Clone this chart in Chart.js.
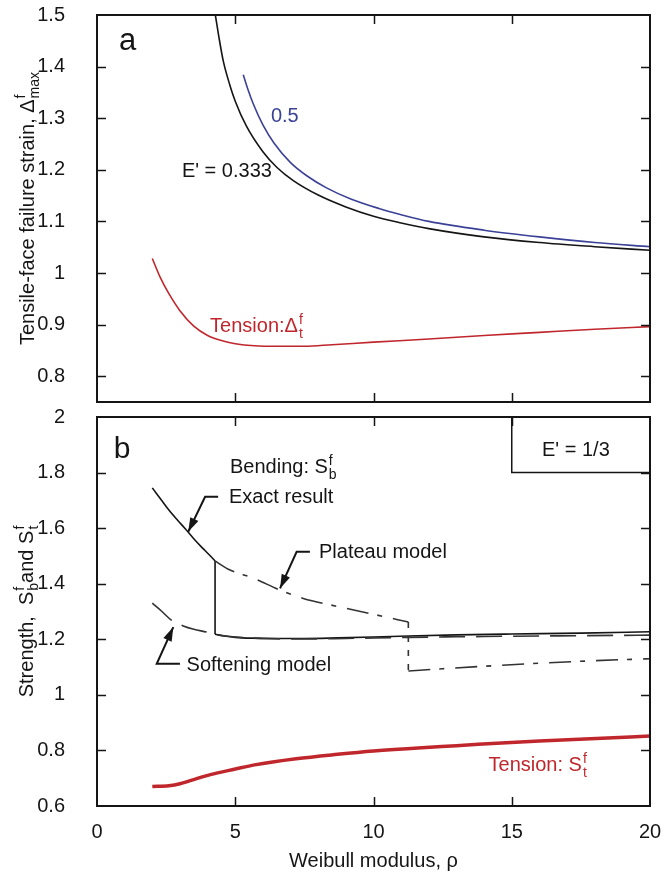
<!DOCTYPE html>
<html>
<head>
<meta charset="utf-8">
<script src="https://cdn.jsdelivr.net/npm/chart.js@4.4.1/dist/chart.umd.min.js"></script>
<style>
  html, body { margin: 0; padding: 0; background: #fff; }
  #wrap { position: relative; width: 664px; height: 875px; }
  canvas { position: absolute; left: 0; }
  #panelA { top: 0; }
  #panelB { top: 400px; }
</style>
</head>
<body>
<div id="wrap">
  <canvas id="panelA" width="664" height="410"></canvas>
  <canvas id="panelB" width="664" height="475"></canvas>
</div>
<script>
// ---- axis ticks ----
const xTicks = [0, 5, 10, 15, 20];
const yTicksA = [0.8, 0.9, 1, 1.1, 1.2, 1.3, 1.4, 1.5];
const yTicksB = [0.6, 0.8, 1, 1.2, 1.4, 1.6, 1.8, 2];

// ---- panel a : tensile-face failure strain ----
const e333X = [4.28, 4.4, 4.57, 4.8, 5.0, 5.4, 6.0, 6.5, 7.1, 8.0, 9.0, 10.0, 11.0, 12.0, 14.0, 16.0, 18.0, 20.0];
const e333Y = [1.5, 1.46, 1.41, 1.365, 1.333, 1.285, 1.235, 1.205, 1.179, 1.151, 1.128, 1.11, 1.097, 1.086, 1.07, 1.059, 1.051, 1.044];
const e05X = [5.29, 5.45, 5.65, 6.0, 6.4, 7.0, 7.6, 8.3, 9.2, 10.2, 11.0, 12.0, 14.0, 16.0, 18.0, 20.0];
const e05Y = [1.384, 1.357, 1.328, 1.287, 1.252, 1.214, 1.188, 1.165, 1.143, 1.125, 1.113, 1.1, 1.083, 1.07, 1.059, 1.051];
const tensDX = [2.0, 2.3, 2.6, 3.0, 3.5, 4.0, 4.5, 5.0, 5.7, 6.5, 7.5, 8.5, 10, 12, 14, 16, 18, 20];
const tensDY = [1.028, 0.99, 0.96, 0.927, 0.897, 0.879, 0.869, 0.863, 0.859, 0.858, 0.858, 0.861, 0.866, 0.872, 0.879, 0.885, 0.891, 0.896];

// ---- panel b : strength ----
const exactHiX = [2.0, 2.3, 2.6, 2.9, 3.2, 3.5, 3.8, 4.05, 4.27];
const exactHiY = [1.745, 1.705, 1.665, 1.63, 1.597, 1.562, 1.53, 1.505, 1.482];
const exactDropX = [4.27, 4.27];
const exactDropY = [1.482, 1.218];
const exactLoX = [4.27, 4.6, 5.0, 5.6, 6.5, 7.5, 8.7, 10, 11.26, 13, 15, 17.5, 20];
const exactLoY = [1.218, 1.212, 1.207, 1.204, 1.203, 1.203, 1.205, 1.208, 1.212, 1.216, 1.219, 1.222, 1.227];
const softX = [2.0, 2.35, 2.7, 3.12, 3.5, 3.96, 4.27, 5, 6, 7.5, 9, 11.26, 13, 15, 17.5, 20];
const softY = [1.33, 1.3, 1.268, 1.248, 1.236, 1.226, 1.218, 1.208, 1.203, 1.201, 1.203, 1.207, 1.209, 1.211, 1.213, 1.215];
const platHiX = [4.27, 4.75, 5.65, 6.62, 7.46, 8.7, 10.0, 11.26];
const platHiY = [1.482, 1.452, 1.42, 1.377, 1.347, 1.318, 1.29, 1.262];
const platDropX = [11.26, 11.26];
const platDropY = [1.262, 1.086];
const platLoX = [11.26, 12.5, 14, 16, 18, 20];
const platLoY = [1.086, 1.094, 1.103, 1.114, 1.123, 1.13];
const tensSX = [2.0, 2.6, 3.0, 3.4, 4.1, 5.0, 5.7, 7.2, 8.7, 10, 11.75, 13, 14.8, 16, 17.85, 20];
const tensSY = [0.67, 0.673, 0.68, 0.692, 0.713, 0.733, 0.748, 0.77, 0.786, 0.798, 0.81, 0.817, 0.828, 0.834, 0.842, 0.852];

const FONT = '"Liberation Sans", Arial, Helvetica, sans-serif';
const INK = '#151515';
const RED = '#c0272d';
const BLUE = '#3b4196';

Chart.defaults.font.family = FONT;
Chart.defaults.color = INK;

function series(xs, ys, color, width, dash, smooth) {
  return {
    data: xs.map((x, i) => ({ x, y: ys[i] })),
    borderColor: color,
    borderWidth: width,
    borderDash: dash || [],
    pointRadius: 0,
    fill: false,
    tension: 0,
    cubicInterpolationMode: smooth === false ? 'default' : 'monotone',
  };
}

// text with optional super/subscripts: parts are strings or {sup, sub}
function drawRich(ctx, parts, x, y, size, color, align) {
  const small = Math.round(size * 0.7);
  ctx.save();
  ctx.fillStyle = color;
  ctx.textBaseline = 'alphabetic';
  ctx.textAlign = 'left';
  const widths = parts.map(p => {
    if (typeof p === 'string') {
      ctx.font = size + 'px ' + FONT;
      return ctx.measureText(p).width;
    }
    ctx.font = small + 'px ' + FONT;
    return Math.max(ctx.measureText(p.sup || '').width, ctx.measureText(p.sub || '').width) + 1;
  });
  const total = widths.reduce((a, b) => a + b, 0);
  let cx = align === 'center' ? x - total / 2 : x;
  parts.forEach((p, i) => {
    if (typeof p === 'string') {
      ctx.font = size + 'px ' + FONT;
      ctx.fillText(p, cx, y);
    } else {
      ctx.font = small + 'px ' + FONT;
      if (p.sup) ctx.fillText(p.sup, cx + 1, y - size * 0.43);
      if (p.sub) ctx.fillText(p.sub, cx + 1, y + size * 0.27);
    }
    cx += widths[i];
  });
  ctx.restore();
}

function drawArrow(ctx, pts) {
  ctx.save();
  ctx.strokeStyle = INK;
  ctx.fillStyle = INK;
  ctx.lineWidth = 2;
  ctx.beginPath();
  pts.forEach((p, i) => (i ? ctx.lineTo(p[0], p[1]) : ctx.moveTo(p[0], p[1])));
  ctx.stroke();
  const [x1, y1] = pts[pts.length - 2];
  const [x2, y2] = pts[pts.length - 1];
  const a = Math.atan2(y2 - y1, x2 - x1);
  const L = 14, W = 4.5;
  ctx.beginPath();
  ctx.moveTo(x2, y2);
  ctx.lineTo(x2 - L * Math.cos(a) + W * Math.sin(a), y2 - L * Math.sin(a) - W * Math.cos(a));
  ctx.lineTo(x2 - L * Math.cos(a) - W * Math.sin(a), y2 - L * Math.sin(a) + W * Math.cos(a));
  ctx.closePath();
  ctx.fill();
  ctx.restore();
}

// frame, inward ticks, labels, arrows
function decorPlugin(p) {
  return {
    id: 'decor',
    afterDatasetsDraw(chart) {
      const { ctx, chartArea: ca, scales: { x, y } } = chart;
      ctx.save();
      ctx.strokeStyle = INK;
      ctx.lineWidth = 1.5;
      const T = 9;
      ctx.beginPath();
      xTicks.slice(1, -1).forEach(v => {
        const px = Math.round(x.getPixelForValue(v)) + 0.5;
        ctx.moveTo(px, ca.bottom); ctx.lineTo(px, ca.bottom - T);
        ctx.moveTo(px, ca.top); ctx.lineTo(px, ca.top + T);
      });
      p.yTicks.slice(0, -1).forEach(v => {
        const py = Math.round(y.getPixelForValue(v)) + 0.5;
        if (py > ca.bottom - 1) return;
        ctx.moveTo(ca.left, py); ctx.lineTo(ca.left + T, py);
        ctx.moveTo(ca.right, py); ctx.lineTo(ca.right - T, py);
      });
      ctx.stroke();

      if (p.box) {
        const bx = x.getPixelForValue(p.box.x0);
        const by = y.getPixelForValue(p.box.y0);
        ctx.beginPath();
        ctx.moveTo(bx, ca.top); ctx.lineTo(bx, by); ctx.lineTo(ca.right, by);
        ctx.stroke();
      }

      ctx.lineWidth = 2;
      ctx.strokeRect(ca.left, ca.top, ca.right - ca.left, ca.bottom - ca.top);
      ctx.restore();

      (p.texts || []).forEach(t => {
        drawRich(ctx, t.parts, x.getPixelForValue(t.x), y.getPixelForValue(t.y), t.size || 20, t.color || INK, t.align);
      });
      (p.arrows || []).forEach(a => {
        drawArrow(ctx, a.map(q => [x.getPixelForValue(q[0]), y.getPixelForValue(q[1])]));
      });

      // rotated y-axis title
      ctx.save();
      ctx.translate(p.yTitleX, (ca.top + ca.bottom) / 2);
      ctx.rotate(-Math.PI / 2);
      drawRich(ctx, p.yTitle, 0, 0, 20, INK, 'center');
      ctx.restore();

      if (p.xTitle) {
        drawRich(ctx, p.xTitle, (ca.left + ca.right) / 2, p.xTitleY, 20, INK, 'center');
      }
    },
  };
}

function panelOptions(p) {
  return {
    responsive: false,
    animation: false,
    devicePixelRatio: 1,
    layout: { padding: p.padding },
    plugins: { legend: { display: false }, tooltip: { enabled: false } },
    scales: {
      x: {
        type: 'linear', min: 0, max: 20, display: p.showX,
        grid: { display: false, drawTicks: false }, border: { display: false },
        ticks: { font: { size: 20 }, color: INK, padding: 14, maxRotation: 0 },
        afterBuildTicks: s => { s.ticks = xTicks.map(v => ({ value: v })); },
        afterFit: s => { s.height = p.xHeight; s.paddingLeft = 0; s.paddingRight = 0; },
      },
      y: {
        type: 'linear', min: p.yMin, max: p.yMax,
        grid: { display: false, drawTicks: false }, border: { display: false },
        ticks: { font: { size: 20 }, color: INK, padding: 32, callback: v => String(v) },
        afterBuildTicks: s => { s.ticks = p.yTicks.map(v => ({ value: v })); },
        afterFit: s => { s.width = 97; s.paddingTop = 0; s.paddingBottom = 0; },
      },
    },
  };
}

const panelA = {
  padding: { top: 15, right: 14, bottom: 8, left: 0 },
  showX: false, xHeight: 0,
  yMin: 0.75, yMax: 1.5, yTicks: yTicksA,
  yTitleX: 34,
  yTitle: ['Tensile-face failure strain, \u0394', { sup: 'f', sub: 'max' }],
  texts: [
    { parts: ['a'], x: 0.8, y: 1.432, size: 31 },
    { parts: ['0.5'], x: 6.29, y: 1.293, color: BLUE },
    { parts: ["E' = 0.333"], x: 3.07, y: 1.187 },
    { parts: ['Tension:\u0394', { sup: 'f', sub: 't' }], x: 4.09, y: 0.885, color: RED },
  ],
};

const panelB = {
  padding: { top: 17, right: 14, bottom: 0, left: 0 },
  showX: true, xHeight: 69,
  yMin: 0.6, yMax: 2, yTicks: yTicksB,
  yTitleX: 33,
  yTitle: ['Strength,  S', { sup: 'f', sub: 'b' }, 'and S', { sup: 'f', sub: 't' }],
  xTitle: ['Weibull modulus, \u03c1'],
  xTitleY: 467,
  box: { x0: 15, y0: 1.8 },
  texts: [
    { parts: ['b'], x: 0.61, y: 1.852, size: 30 },
    { parts: ['Bending: S', { sup: 'f', sub: 'b' }], x: 4.81, y: 1.798 },
    { parts: ['Exact result'], x: 4.77, y: 1.692 },
    { parts: ['Plateau model'], x: 8.03, y: 1.494 },
    { parts: ['Softening model'], x: 3.24, y: 1.086 },
    { parts: ['Tension: S', { sup: 'f', sub: 't' }], x: 14.16, y: 0.725, color: RED },
    { parts: ["E' = 1/3"], x: 17.32, y: 1.859, align: 'center' },
  ],
  arrows: [
    [[4.38, 1.713], [3.91, 1.713], [3.3, 1.587]],
    [[7.7, 1.515], [7.22, 1.515], [6.62, 1.383]],
    [[3.0, 1.112], [2.16, 1.112], [2.76, 1.244]],
  ],
};

new Chart(document.getElementById('panelA'), {
  type: 'line',
  data: {
    datasets: [
      series(e333X, e333Y, INK, 1.6),
      series(e05X, e05Y, BLUE, 1.6),
      series(tensDX, tensDY, RED, 1.6),
    ],
  },
  options: panelOptions(panelA),
  plugins: [decorPlugin(panelA)],
});

const DASH_LONG = [26, 11];
const DASH_DOT = [22, 9, 5, 11];

new Chart(document.getElementById('panelB'), {
  type: 'line',
  data: {
    datasets: [
      series(softX, softY, '#333', 1.6, DASH_LONG),
      series(platHiX, platHiY, '#333', 1.6, DASH_DOT),
      series(platDropX, platDropY, '#333', 1.6, [6, 8], false),
      series(platLoX, platLoY, '#333', 1.6, DASH_DOT),
      series(exactHiX, exactHiY, INK, 1.6),
      series(exactDropX, exactDropY, INK, 1.6, [], false),
      series(exactLoX, exactLoY, INK, 1.6),
      series(tensSX, tensSY, RED, 3.5),
    ],
  },
  options: panelOptions(panelB),
  plugins: [decorPlugin(panelB)],
});
</script>
</body>
</html>
